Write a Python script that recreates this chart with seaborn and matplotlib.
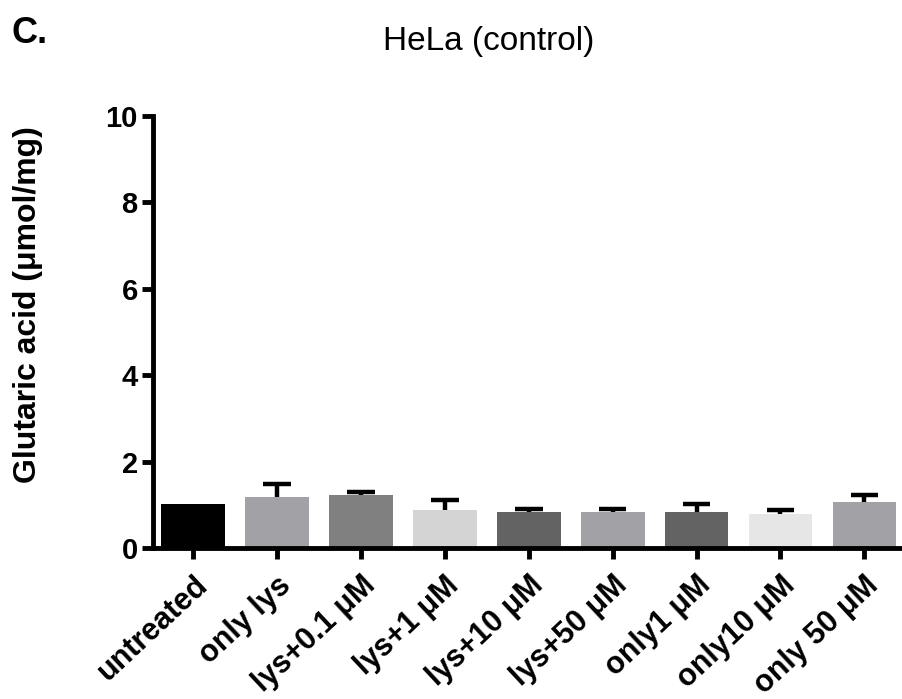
import numpy as np
import matplotlib
matplotlib.use("Agg")
import matplotlib.pyplot as plt
import seaborn as sns

# Data (mean and upper error bar size)
groups = ["untreated", "only lys", "lys+0.1 μM", "lys+1 μM", "lys+10 μM",
          "lys+50 μM", "only1 μM", "only10 μM", "only 50 μM"]
means = [1.03, 1.19, 1.23, 0.87, 0.83, 0.83, 0.84, 0.79, 1.06]
sem = [0.0, 0.29, 0.07, 0.24, 0.07, 0.07, 0.19, 0.08, 0.17]
bar_colors = ["#000000", "#a2a2a6", "#808080", "#d4d4d4", "#636363",
              "#a2a2a6", "#636363", "#e6e6e6", "#a2a2a6"]
y_ticks = [0, 2, 4, 6, 8, 10]

sns.set_style("ticks")
plt.rcParams["font.family"] = ["Liberation Sans", "DejaVu Sans"]
plt.rcParams.update({"text.color": "black", "axes.labelcolor": "black",
                     "xtick.color": "black", "ytick.color": "black",
                     "axes.edgecolor": "black"})

fig = plt.figure(figsize=(9.03, 6.99), dpi=100)
ax = fig.add_axes([153 / 903, 151 / 699, 750 / 903, 432 / 699])

sns.barplot(x=groups, y=means, hue=groups, palette=bar_colors, legend=False,
            width=0.76, saturation=1, ax=ax, linewidth=0, zorder=2)

# upper-only error bars (stem from bar top, cap on top)
x_pos = np.arange(len(groups))
err_top = np.array(means) + np.array(sem)
has_err = np.array(sem) > 0
ax.vlines(x_pos[has_err], np.array(means)[has_err], err_top[has_err],
          colors="black", linewidth=3.2, zorder=1)
ax.hlines(err_top[has_err], x_pos[has_err] - 0.165, x_pos[has_err] + 0.165,
          colors="black", linewidth=3.2, zorder=1)

ax.set_ylim(0, 10)
ax.set_xlim(-0.477, 8.46)
ax.set_yticks(y_ticks)
ax.set_yticklabels([str(t) for t in y_ticks], fontsize=21, fontweight="bold")
ax.set_xticks(x_pos)
ax.set_xticklabels(groups, fontsize=22, fontweight="bold", rotation=43,
                   ha="right", va="top", rotation_mode="anchor")
ax.set_xlabel("")
ax.set_ylabel("")

for side in ["top", "right"]:
    ax.spines[side].set_visible(False)
for side in ["left", "bottom"]:
    ax.spines[side].set_linewidth(3.5)
    ax.spines[side].set_zorder(3)
ax.tick_params(axis="both", length=8, width=3.5, color="black", pad=3)
ax.tick_params(axis="x", pad=8)

fig.text(28 / 903, 1 - 305 / 699, "Glutaric acid (μmol/mg)", rotation=90,
         ha="center", va="center", fontsize=23, fontweight="bold")
fig.text(489 / 903, 1 - 50 / 699, "HeLa (control)", ha="center",
         va="baseline", fontsize=24)
fig.text(12 / 903, 1 - 43 / 699, "C.", ha="left", va="baseline",
         fontsize=26, fontweight="bold")

fig.savefig("out.png", dpi=100)
